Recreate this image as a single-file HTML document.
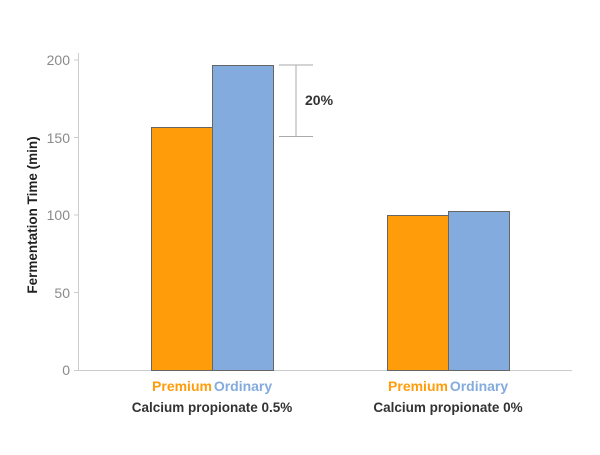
<!DOCTYPE html>
<html><head><style>body{margin:0;background:#fff}</style></head><body>
<svg width="600" height="450" xmlns="http://www.w3.org/2000/svg" font-family="Liberation Sans, Arial, sans-serif">
<rect width="600" height="450" fill="#fff"/>
<g stroke="#ccc" stroke-width="1">
<line x1="78.5" y1="53" x2="78.5" y2="370.5"/>
<line x1="78" y1="370.5" x2="572" y2="370.5"/>
<line x1="74" y1="60" x2="78" y2="60"/>
<line x1="74" y1="137.5" x2="78" y2="137.5"/>
<line x1="74" y1="215" x2="78" y2="215"/>
<line x1="74" y1="292.5" x2="78" y2="292.5"/>
<line x1="74" y1="370.5" x2="78" y2="370.5"/>
</g>
<g fill="#8a8a8a" font-size="14" text-anchor="end">
<text x="70" y="65">200</text><text x="70" y="143">150</text><text x="70" y="220">100</text><text x="70" y="298">50</text><text x="70" y="375">0</text>
</g>
<text transform="translate(37,215) rotate(-90)" text-anchor="middle" font-size="13.5" font-weight="bold" fill="#222">Fermentation Time (min)</text>
<g stroke="#666" stroke-width="1">
<rect x="151.5" y="127.5" width="61" height="243" fill="#ff9c0a"/>
<rect x="212.5" y="65.5" width="61" height="305" fill="#84abdd"/>
<rect x="387.5" y="215.5" width="61" height="155" fill="#ff9c0a"/>
<rect x="448.5" y="211.5" width="61" height="159" fill="#84abdd"/>
</g>
<g stroke="#aaa" stroke-width="1">
<line x1="279" y1="65" x2="313" y2="65"/>
<line x1="279" y1="136.5" x2="313" y2="136.5"/>
<line x1="296" y1="65" x2="296" y2="136.5"/>
</g>
<text x="305" y="105" font-size="14" font-weight="bold" fill="#333">20%</text>
<g font-size="14" font-weight="bold" text-anchor="middle">
<text x="182" y="391" fill="#ff9c0a">Premium</text><text x="243" y="391" fill="#84abdd">Ordinary</text>
<text x="418" y="391" fill="#ff9c0a">Premium</text><text x="479" y="391" fill="#84abdd">Ordinary</text>
</g>
<g font-size="13.5" font-weight="bold" text-anchor="middle" fill="#333">
<text x="212" y="412">Calcium propionate 0.5%</text>
<text x="448" y="412">Calcium propionate 0%</text>
</g>
</svg>
</body></html>
